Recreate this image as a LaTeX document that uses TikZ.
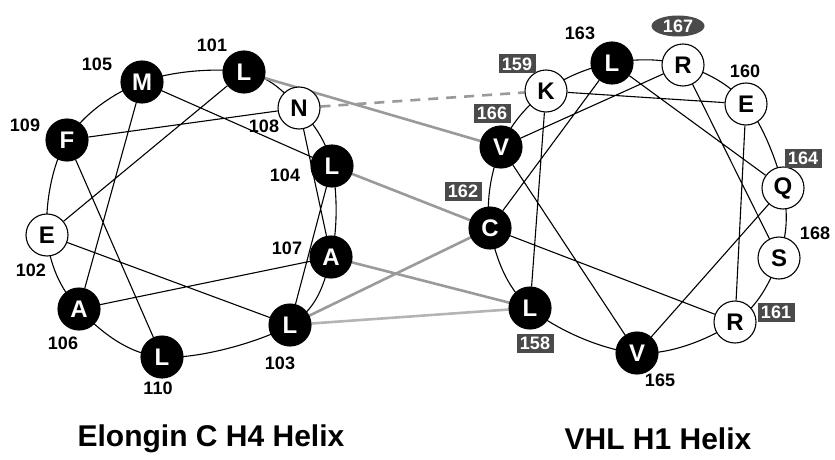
\documentclass[tikz,border=0pt]{standalone}
\usepackage{fontspec}
\setmainfont{Liberation Sans}
\usetikzlibrary{shapes.geometric}
\pgfdeclarelayer{background}
\pgfsetlayers{background,main}
\definecolor{tagfill}{HTML}{4A4A4A}
\definecolor{linkgray}{HTML}{9A9A9A}
\definecolor{linklight}{HTML}{B4B4B4}
\begin{document}
\begin{tikzpicture}[x=1pt,y=-1pt,
  res/.style={circle,draw=black,line width=1.1pt,minimum size=42pt,inner sep=0pt,
    font=\fontsize{24}{24}\selectfont\bfseries},
  hyd/.style={res,fill=black,text=white},
  pol/.style={res,fill=white,text=black},
  num/.style={font=\fontsize{18}{18}\selectfont\bfseries,inner sep=0pt},
  tag/.style={num,fill=tagfill,text=white,minimum width=37pt,minimum height=19pt},
  ring/.style={line width=1.1pt,black},
  seq/.style={line width=1.1pt,black},
  link/.style={line width=2.6pt,linkgray},
  title/.style={font=\fontsize{30}{30}\selectfont\bfseries,inner sep=0pt}]
\useasboundingbox (0,0) rectangle (835,460);

% Elongin C H4 helix
\node[hyd] (l101) at (244,72) {L};
\node[pol] (e102) at (47,235) {E};
\node[hyd] (l103) at (290,325) {L};
\node[hyd] (l104) at (332,166) {L};
\node[hyd] (m105) at (142,82) {M};
\node[hyd] (a106) at (79,309) {A};
\node[hyd] (a107) at (331,257) {A};
\node[pol] (n108) at (299,108) {N};
\node[hyd] (f109) at (67,140) {F};
\node[hyd] (l110) at (162,357) {L};

\node[num] (t101) at (212,45) {101};
\node[num] (t102) at (31,270) {102};
\node[num] (t103) at (280,363) {103};
\node[num] (t104) at (285,175) {104};
\node[num] (t105) at (97,64) {105};
\node[num] (t106) at (63,343) {106};
\node[num] (t107) at (287,248) {107};
\node[num] (t108) at (264,126) {108};
\node[num] (t109) at (25,125) {109};
\node[num] (t110) at (158,388) {110};

% VHL H1 helix
\node[hyd] (l158) at (530,308) {L};
\node[pol] (k159) at (546,91) {K};
\node[pol] (e160) at (746,104) {E};
\node[pol] (r161) at (735,322) {R};
\node[hyd] (c162) at (490,228) {C};
\node[hyd] (l163) at (612,63) {L};
\node[pol] (q164) at (783,188) {Q};
\node[hyd] (v165) at (637,353) {V};
\node[hyd] (v166) at (501,147) {V};
\node[pol] (r167) at (683,65) {R};
\node[pol] (s168) at (779,258) {S};

\node[tag] (t158) at (535,343) {158};
\node[tag] (t159) at (517,64) {159};
\node[num] (t160) at (745,71) {160};
\node[tag] (t161) at (776,312) {161};
\node[tag] (t162) at (463,191) {162};
\node[num] (t163) at (580,33) {163};
\node[tag] (t164) at (803,158) {164};
\node[num] (t165) at (660,380) {165};
\node[tag] (t166) at (492,113) {166};
\node[num,ellipse,fill=tagfill,text=white,minimum width=53pt,minimum height=21pt] (t167) at (678,26) {167};
\node[num] (t168) at (815,233) {168};

\node[title] (left) at (211,439) {Elongin C H4 Helix};
\node[title] (right) at (658,439) {VHL H1 Helix};

\begin{pgfonlayer}{background}
  % wheel outlines
  \draw[ring] plot[smooth cycle,tension=0.6] coordinates {(m105.center) (l101.center) (n108.center) (l104.center) (a107.center) (l103.center) (l110.center) (a106.center) (e102.center) (f109.center)};
  \draw[ring] plot[smooth cycle,tension=0.6] coordinates {(l163.center) (r167.center) (e160.center) (q164.center) (s168.center) (r161.center) (v165.center) (l158.center) (c162.center) (v166.center) (k159.center)};
  % sequential residue links
  \draw[seq] (l101) -- (e102) -- (l103) -- (l104) -- (m105) -- (a106) -- (a107) -- (n108) -- (f109) -- (l110);
  \draw[seq] (l158) -- (k159) -- (e160) -- (r161) -- (c162) -- (l163) -- (q164) -- (v165) -- (v166) -- (r167) -- (s168);
  % contacts between the helices
  \draw[link] (l101) -- (v166);
  \draw[link,dash pattern=on 10pt off 8pt] (n108) -- (k159);
  \draw[link] (l104) -- (c162);
  \draw[link] (a107) -- (l158);
  \draw[link] (l103) -- (c162);
  \draw[link,linklight] (l103) -- (l158);
\end{pgfonlayer}
\end{tikzpicture}
\end{document}
